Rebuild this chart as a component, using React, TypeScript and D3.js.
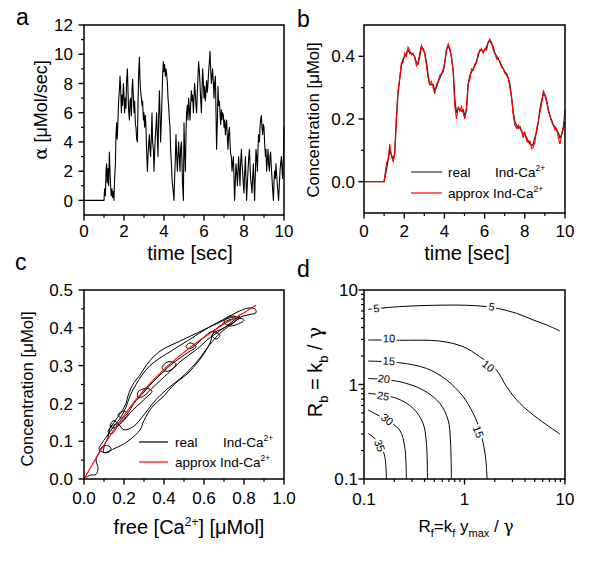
import React from 'react';
import * as d3 from 'd3';

// ---------- Panel a: input flux alpha(t) ----------
const alphaTime = [0, 1.0, 1.03, 1.07, 1.1, 1.13, 1.16, 1.2, 1.23, 1.27, 1.3, 1.33, 1.36, 1.4, 1.43, 1.47, 1.5, 1.53, 1.57, 1.6, 1.63, 1.66, 1.7, 1.73, 1.77, 1.8, 1.83, 1.87, 1.9, 1.93, 1.97, 2.0, 2.03, 2.07, 2.1, 2.13, 2.17, 2.2, 2.23, 2.27, 2.3, 2.33, 2.37, 2.4, 2.43, 2.47, 2.5, 2.53, 2.57, 2.6, 2.63, 2.67, 2.7, 2.73, 2.77, 2.8, 2.83, 2.87, 2.9, 2.93, 2.97, 3.0, 3.03, 3.07, 3.1, 3.13, 3.17, 3.2, 3.23, 3.27, 3.3, 3.33, 3.37, 3.4, 3.43, 3.47, 3.5, 3.53, 3.57, 3.6, 3.63, 3.67, 3.7, 3.73, 3.77, 3.8, 3.83, 3.87, 3.9, 3.93, 3.97, 4.0, 4.03, 4.07, 4.1, 4.13, 4.17, 4.2, 4.23, 4.27, 4.3, 4.33, 4.37, 4.4, 4.43, 4.47, 4.5, 4.53, 4.57, 4.6, 4.63, 4.67, 4.7, 4.73, 4.77, 4.8, 4.83, 4.87, 4.9, 4.93, 4.97, 5.0, 5.03, 5.07, 5.1, 5.13, 5.17, 5.2, 5.23, 5.27, 5.3, 5.33, 5.37, 5.4, 5.43, 5.47, 5.5, 5.53, 5.57, 5.6, 5.63, 5.67, 5.7, 5.73, 5.77, 5.8, 5.83, 5.87, 5.9, 5.93, 5.97, 6.0, 6.03, 6.07, 6.1, 6.13, 6.17, 6.2, 6.23, 6.27, 6.3, 6.33, 6.37, 6.4, 6.43, 6.47, 6.5, 6.53, 6.57, 6.6, 6.63, 6.67, 6.7, 6.73, 6.77, 6.8, 6.83, 6.87, 6.9, 6.93, 6.97, 7.0, 7.03, 7.07, 7.1, 7.13, 7.17, 7.2, 7.23, 7.27, 7.3, 7.33, 7.37, 7.4, 7.43, 7.47, 7.5, 7.53, 7.57, 7.6, 7.63, 7.67, 7.7, 7.73, 7.77, 7.8, 7.83, 7.87, 7.9, 7.93, 7.97, 8.0, 8.03, 8.07, 8.1, 8.13, 8.17, 8.2, 8.23, 8.27, 8.3, 8.33, 8.37, 8.4, 8.43, 8.47, 8.5, 8.53, 8.57, 8.6, 8.63, 8.67, 8.7, 8.73, 8.77, 8.8, 8.83, 8.87, 8.9, 8.93, 8.97, 9.0, 9.03, 9.07, 9.1, 9.13, 9.17, 9.2, 9.23, 9.27, 9.3, 9.33, 9.37, 9.4, 9.43, 9.47, 9.5, 9.53, 9.57, 9.6, 9.63, 9.67, 9.7, 9.73, 9.77, 9.8, 9.83, 9.87, 9.9, 9.93, 9.97, 10.0];
const alphaValue = [0, 0, 0.8, 0.3, 2.0, 2.5, 1.2, 2.2, 1.0, 3.3, 2.0, 1.0, 0.3, 0.8, 0.2, 0.6, 0, 1.5, 2.5, 4.5, 5.3, 4.2, 5.5, 6.8, 7.5, 8.5, 7.8, 6.0, 7.2, 6.5, 8.0, 7.2, 6.0, 7.0, 6.3, 8.2, 9.0, 7.5, 6.2, 5.5, 6.8, 7.0, 5.8, 7.5, 8.3, 7.0, 6.0, 6.8, 5.2, 5.0, 4.2, 4.0, 6.5, 8.5, 9.8, 8.2, 7.5, 7.0, 6.5, 6.8, 5.5, 6.0, 5.0, 5.8, 5.0, 3.5, 2.0, 3.0, 3.8, 4.5, 3.5, 3.0, 4.5, 6.0, 4.0, 3.5, 2.0, 3.2, 4.5, 5.0, 6.0, 4.2, 3.0, 5.5, 7.5, 6.0, 4.0, 5.5, 7.0, 8.5, 9.5, 8.8, 9.3, 8.5, 9.0, 8.7, 8.0, 7.0, 6.5, 5.5, 5.0, 3.5, 2.5, 1.5, 1.0, 0.5, 0, 1.5, 3.0, 4.5, 3.2, 2.0, 3.0, 4.0, 2.8, 2.0, 3.5, 4.0, 2.5, 1.0, 0, 5.3, 3.5, 2.0, 4.5, 6.0, 6.5, 5.5, 7.0, 6.2, 5.5, 6.5, 7.5, 6.8, 7.2, 6.0, 7.0, 8.0, 7.2, 6.5, 6.0, 7.5, 8.5, 9.5, 8.8, 8.0, 7.0, 6.0, 7.5, 9.0, 8.0, 7.0, 7.8, 6.8, 7.5, 8.2, 7.4, 8.0, 8.8, 9.5, 10.2, 9.0, 8.0, 8.5, 9.0, 8.0, 7.0, 8.0, 8.5, 6.0, 3.5, 5.5, 7.8, 6.5, 6.8, 6.0, 5.2, 6.2, 5.5, 6.0, 5.8, 5.0, 5.5, 4.5, 5.2, 5.5, 4.2, 3.5, 4.5, 5.0, 4.0, 3.2, 3.0, 2.0, 2.5, 3.0, 1.5, 0, 1.5, 2.5, 2.0, 1.0, 2.0, 3.0, 2.0, 1.0, 2.5, 3.5, 2.5, 2.0, 1.0, 0.5, 1.8, 3.0, 1.5, 0, 1.2, 2.0, 2.8, 3.5, 2.5, 1.5, 1.0, 0.5, 1.5, 2.5, 1.2, 0, 2.0, 3.5, 3.0, 2.0, 3.5, 4.5, 4.0, 5.0, 5.5, 5.8, 5.0, 4.5, 5.2, 5.0, 4.0, 3.0, 3.5, 2.0, 2.8, 3.5, 2.5, 2.0, 3.0, 3.3, 2.2, 1.5, 0.8, 0, 1.2, 2.0, 1.5, 2.5, 1.8, 1.0, 0.5, 0, 1.2, 2.0, 2.5, 3.0, 2.2, 1.5, 3.0, 5.0];
const alphaXTicks = [0, 2, 4, 6, 8, 10];
const alphaYTicks = [0, 2, 4, 6, 8, 10, 12];

// ---------- Panel b: Ind-Ca2+ concentration ----------
const concTime = [0, 1.0, 1.12, 1.2, 1.28, 1.37, 1.45, 1.53, 1.61, 1.69, 1.78, 1.86, 1.94, 2.03, 2.11, 2.19, 2.27, 2.36, 2.44, 2.52, 2.61, 2.69, 2.77, 2.86, 2.94, 3.02, 3.11, 3.19, 3.27, 3.36, 3.44, 3.52, 3.6, 3.69, 3.77, 3.85, 3.94, 4.02, 4.1, 4.19, 4.27, 4.35, 4.44, 4.52, 4.6, 4.69, 4.77, 4.85, 4.93, 5.02, 5.1, 5.18, 5.27, 5.35, 5.43, 5.51, 5.6, 5.68, 5.76, 5.85, 5.93, 6.01, 6.1, 6.18, 6.26, 6.35, 6.43, 6.51, 6.6, 6.68, 6.76, 6.84, 6.93, 7.01, 7.09, 7.18, 7.26, 7.34, 7.43, 7.51, 7.59, 7.67, 7.76, 7.84, 7.92, 8.0, 8.09, 8.17, 8.26, 8.34, 8.42, 8.5, 8.59, 8.67, 8.75, 8.84, 8.92, 9.0, 9.09, 9.17, 9.25, 9.34, 9.42, 9.5, 9.58, 9.67, 9.75, 9.83, 9.92, 10.0];
const concReal = [0, 0, 0.04, 0.07, 0.1, 0.085, 0.07, 0.09, 0.2, 0.28, 0.33, 0.37, 0.39, 0.4, 0.41, 0.42, 0.41, 0.41, 0.405, 0.4, 0.38, 0.375, 0.4, 0.43, 0.425, 0.41, 0.38, 0.34, 0.31, 0.31, 0.31, 0.29, 0.3, 0.32, 0.33, 0.345, 0.35, 0.38, 0.42, 0.435, 0.42, 0.4, 0.35, 0.26, 0.22, 0.235, 0.23, 0.225, 0.23, 0.21, 0.23, 0.31, 0.34, 0.35, 0.36, 0.37, 0.385, 0.4, 0.42, 0.42, 0.415, 0.42, 0.43, 0.445, 0.45, 0.44, 0.43, 0.41, 0.4, 0.39, 0.385, 0.37, 0.36, 0.35, 0.345, 0.33, 0.31, 0.27, 0.22, 0.19, 0.18, 0.17, 0.175, 0.16, 0.155, 0.15, 0.14, 0.13, 0.12, 0.115, 0.12, 0.14, 0.16, 0.19, 0.23, 0.26, 0.28, 0.275, 0.255, 0.23, 0.21, 0.195, 0.18, 0.175, 0.165, 0.155, 0.14, 0.15, 0.17, 0.19];
const concApprox = [0, 0, 0.06, 0.07, 0.12, 0.08, 0.065, 0.09, 0.2, 0.29, 0.33, 0.38, 0.38, 0.41, 0.4, 0.43, 0.42, 0.405, 0.41, 0.395, 0.37, 0.38, 0.41, 0.435, 0.42, 0.41, 0.37, 0.33, 0.31, 0.32, 0.3, 0.28, 0.31, 0.32, 0.34, 0.34, 0.36, 0.38, 0.42, 0.44, 0.425, 0.395, 0.35, 0.24, 0.2, 0.24, 0.225, 0.24, 0.22, 0.2, 0.24, 0.31, 0.33, 0.36, 0.355, 0.375, 0.38, 0.41, 0.415, 0.425, 0.41, 0.425, 0.42, 0.445, 0.455, 0.445, 0.42, 0.41, 0.39, 0.395, 0.38, 0.365, 0.36, 0.345, 0.34, 0.33, 0.3, 0.27, 0.21, 0.18, 0.17, 0.18, 0.17, 0.165, 0.14, 0.16, 0.13, 0.125, 0.13, 0.105, 0.11, 0.125, 0.17, 0.19, 0.22, 0.25, 0.29, 0.28, 0.26, 0.225, 0.21, 0.19, 0.18, 0.165, 0.17, 0.14, 0.12, 0.15, 0.18, 0.23];
const concXTicks = [0, 2, 4, 6, 8, 10];
const concYTicks = [0, 0.2, 0.4];

// ---------- Panel c: Ind-Ca2+ vs free Ca2+ ----------
const loopFreeCa = [0, 0.03, 0.06, 0.07, 0.06, 0.075, 0.09, 0.12, 0.135, 0.12, 0.09, 0.075, 0.09, 0.11, 0.13, 0.15, 0.18, 0.21, 0.23, 0.26, 0.29, 0.33, 0.38, 0.44, 0.5, 0.56, 0.62, 0.69, 0.76, 0.82, 0.855, 0.86, 0.83, 0.79, 0.75, 0.7, 0.66, 0.62, 0.58, 0.53, 0.48, 0.44, 0.41, 0.39, 0.42, 0.46, 0.44, 0.39, 0.34, 0.3, 0.27, 0.27, 0.31, 0.34, 0.31, 0.27, 0.23, 0.2, 0.17, 0.14, 0.12, 0.14, 0.17, 0.2, 0.25, 0.3, 0.36, 0.42, 0.48, 0.53, 0.58, 0.62, 0.66, 0.7, 0.74, 0.78, 0.8, 0.77, 0.73, 0.7, 0.73, 0.76, 0.72, 0.66, 0.6, 0.52, 0.46, 0.4, 0.35, 0.31, 0.28, 0.25, 0.235, 0.22, 0.21, 0.19, 0.17, 0.15, 0.13, 0.12, 0.1, 0.1, 0.15, 0.22, 0.28, 0.3, 0.34, 0.4, 0.45, 0.52, 0.57, 0.61, 0.63, 0.65, 0.68, 0.72, 0.76, 0.78, 0.75, 0.7, 0.66, 0.64, 0.66, 0.68, 0.64, 0.6, 0.56, 0.53, 0.51, 0.53, 0.56, 0.52, 0.48, 0.44, 0.4, 0.35, 0.3, 0.25, 0.22, 0.19, 0.17, 0.2, 0.22, 0.18, 0.15, 0.13, 0.15, 0.17];
const loopIndCa = [0, 0.01, 0.012, 0.03, 0.05, 0.07, 0.085, 0.088, 0.08, 0.07, 0.072, 0.08, 0.095, 0.11, 0.125, 0.14, 0.16, 0.19, 0.22, 0.25, 0.275, 0.3, 0.32, 0.34, 0.36, 0.38, 0.4, 0.42, 0.44, 0.452, 0.45, 0.44, 0.435, 0.43, 0.415, 0.4, 0.385, 0.37, 0.35, 0.33, 0.31, 0.29, 0.285, 0.295, 0.31, 0.305, 0.29, 0.265, 0.24, 0.22, 0.215, 0.23, 0.24, 0.232, 0.215, 0.195, 0.175, 0.155, 0.14, 0.12, 0.125, 0.14, 0.145, 0.13, 0.14, 0.17, 0.21, 0.24, 0.265, 0.29, 0.32, 0.35, 0.375, 0.395, 0.41, 0.425, 0.42, 0.41, 0.405, 0.415, 0.43, 0.43, 0.425, 0.41, 0.395, 0.375, 0.36, 0.345, 0.325, 0.3, 0.275, 0.255, 0.24, 0.22, 0.2, 0.18, 0.165, 0.15, 0.135, 0.11, 0.085, 0.07, 0.08, 0.1, 0.13, 0.155, 0.19, 0.22, 0.25, 0.28, 0.31, 0.34, 0.36, 0.39, 0.405, 0.42, 0.425, 0.43, 0.42, 0.4, 0.39, 0.38, 0.37, 0.38, 0.39, 0.375, 0.355, 0.345, 0.35, 0.36, 0.35, 0.335, 0.32, 0.305, 0.285, 0.26, 0.23, 0.2, 0.175, 0.16, 0.17, 0.18, 0.17, 0.15, 0.135, 0.14, 0.155, 0.145];
const approxFreeCa = [0, 0.1, 0.2, 0.3, 0.4, 0.5, 0.6, 0.7, 0.8, 0.86];
const approxIndCa = [0, 0.09, 0.168, 0.235, 0.29, 0.335, 0.375, 0.41, 0.44, 0.46];
const caXTicks = [0, 0.2, 0.4, 0.6, 0.8, 1.0];
const caYTicks = [0, 0.1, 0.2, 0.3, 0.4, 0.5];

// ---------- Panel d: contour map ----------
const contourLevels = [5, 10, 15, 20, 25, 30, 35];
const contourRf = [
  [0.11, 0.226, 0.488, 1.05, 1.66, 2.25, 3.3, 4.83, 6.56, 8.9],
  [0.11, 0.226, 0.568, 0.97, 1.42, 2.08, 2.62, 3.56, 5.64, 8.9],
  [0.11, 0.226, 0.418, 0.662, 0.97, 1.22, 1.42, 1.6, 1.68],
  [0.11, 0.226, 0.387, 0.568, 0.687, 0.724, 0.741],
  [0.11, 0.21, 0.308, 0.387, 0.418, 0.428],
  [0.11, 0.167, 0.226, 0.254, 0.264],
  [0.11, 0.143, 0.161, 0.167],
];
const contourRb = [
  [6.24, 6.67, 6.89, 6.89, 6.67, 6.31, 5.66, 4.82, 4.27, 3.68],
  [2.96, 2.94, 2.88, 2.51, 1.97, 1.42, 0.95, 0.63, 0.42, 0.3],
  [1.77, 1.7, 1.48, 1.12, 0.743, 0.495, 0.33, 0.187, 0.1],
  [1.16, 1.07, 0.875, 0.632, 0.42, 0.259, 0.1],
  [0.807, 0.715, 0.56, 0.388, 0.238, 0.1],
  [0.537, 0.42, 0.33, 0.22, 0.1],
  [0.304, 0.238, 0.172, 0.1],
];
const contourLabelLevel = [5, 5, 10, 10, 15, 15, 20, 25, 30, 35];
const contourLabelRf = [0.133, 1.86, 0.177, 1.72, 0.177, 1.37, 0.158, 0.155, 0.17, 0.143];
const contourLabelRb = [6.4, 6.66, 3.08, 1.57, 1.77, 0.316, 1.15, 0.755, 0.428, 0.225];
const logTicks = [0.1, 1, 10];

const FONT = "'Liberation Sans', Arial, Helvetica, sans-serif";

function minorLog(lo: number, hi: number) {
  const out: number[] = [];
  for (let d = lo; d < hi; d *= 10) for (let k = 2; k <= 9; k++) out.push(d * k);
  return out;
}

function XAxis({ scale, y, major, minor, fmt, labelY }: any) {
  return (
    <g>
      {minor.map((v: number, i: number) => (
        <line key={'m' + i} x1={scale(v)} x2={scale(v)} y1={y} y2={y + 3} stroke="#000" strokeWidth={1.2} />
      ))}
      {major.map((v: number, i: number) => (
        <g key={'M' + i}>
          <line x1={scale(v)} x2={scale(v)} y1={y} y2={y + 5.5} stroke="#000" strokeWidth={1.4} />
          <text x={scale(v)} y={labelY} textAnchor="middle" fontSize={17} fontFamily={FONT}>{fmt(v)}</text>
        </g>
      ))}
    </g>
  );
}

function YAxis({ scale, x, major, minor, fmt, labelX }: any) {
  return (
    <g>
      {minor.map((v: number, i: number) => (
        <line key={'m' + i} x1={x - 3} x2={x} y1={scale(v)} y2={scale(v)} stroke="#000" strokeWidth={1.2} />
      ))}
      {major.map((v: number, i: number) => (
        <g key={'M' + i}>
          <line x1={x - 5.5} x2={x} y1={scale(v)} y2={scale(v)} stroke="#000" strokeWidth={1.4} />
          <text x={labelX} y={scale(v)} dy="0.36em" textAnchor="end" fontSize={17} fontFamily={FONT}>{fmt(v)}</text>
        </g>
      ))}
    </g>
  );
}

function Frame({ x0, x1, y0, y1 }: any) {
  return <rect x={x0} y={y0} width={x1 - x0} height={y1 - y0} fill="none" stroke="#000" strokeWidth={1.5} />;
}

export default function App() {
  // Panel a
  const xA = d3.scaleLinear().domain([0, 10]).range([84, 284]);
  const yA = d3.scaleLinear().domain([-1, 12]).range([215, 25]);
  const lineA = d3.line<number>().x((_, i) => xA(alphaTime[i])).y((v) => yA(v));

  // Panel b
  const xB = d3.scaleLinear().domain([0, 10]).range([364, 565]);
  const yB = d3.scaleLinear().domain([-0.1, 0.5]).range([213, 25]);
  const lineB = d3.line<number>().x((_, i) => xB(concTime[i])).y((v) => yB(v));

  // Panel c
  const xC = d3.scaleLinear().domain([0, 1]).range([84, 284]);
  const yC = d3.scaleLinear().domain([0, 0.5]).range([479, 290]);
  const loopLine = d3.line<number>().x((_, i) => xC(loopFreeCa[i])).y((v) => yC(v)).curve(d3.curveCatmullRom.alpha(0.5));
  const approxLine = d3.line<number>().x((_, i) => xC(approxFreeCa[i])).y((v) => yC(v)).curve(d3.curveMonotoneX);

  // Panel d
  const xD = d3.scaleLog().domain([0.1, 10]).range([364, 565]);
  const yD = d3.scaleLog().domain([0.1, 10]).range([479, 290]);

  const contourPaths = contourLevels.map((lvl, k) => {
    const pts: [number, number][] = contourRf[k].map((rf, i) => [xD(rf), yD(contourRb[k][i])]);
    return { lvl, pts, d: d3.line().curve(d3.curveCatmullRom.alpha(0.5))(pts) as string };
  });

  const contourLabels = contourLabelLevel.map((lvl, i) => {
    const px = xD(contourLabelRf[i]);
    const py = yD(contourLabelRb[i]);
    const c = contourPaths[contourLevels.indexOf(lvl)];
    let best = 0;
    let bestD = Infinity;
    for (let j = 0; j < c.pts.length - 1; j++) {
      const mx = (c.pts[j][0] + c.pts[j + 1][0]) / 2;
      const my = (c.pts[j][1] + c.pts[j + 1][1]) / 2;
      const dd = (mx - px) ** 2 + (my - py) ** 2;
      if (dd < bestD) { bestD = dd; best = j; }
    }
    let ang = (Math.atan2(c.pts[best + 1][1] - c.pts[best][1], c.pts[best + 1][0] - c.pts[best][0]) * 180) / Math.PI;
    if (ang > 90) ang -= 180;
    if (ang < -90) ang += 180;
    return { lvl, px, py, ang };
  });

  const f1 = d3.format('.1f');
  const fInt = d3.format('d');
  const fLog = (v: number) => (v < 1 ? '0.1' : String(v));

  return (
    <svg width={600} height={561} style={{ position: 'absolute', left: 0, top: 0 }} fontFamily={FONT}>
      <rect width={600} height={561} fill="#fff" />

      {/* ---------- Panel a ---------- */}
      <text x={16} y={25} fontSize={23}>a</text>
      <path d={lineA(alphaValue) as string} fill="none" stroke="#000" strokeWidth={1.1} strokeLinejoin="round" />
      <Frame x0={84} x1={284} y0={25} y1={215} />
      <XAxis scale={xA} y={215} major={alphaXTicks} minor={[1, 3, 5, 7, 9]} fmt={fInt} labelY={237} />
      <YAxis scale={yA} x={84} major={alphaYTicks} minor={[1, 3, 5, 7, 9, 11]} fmt={fInt} labelX={73} />
      <text x={190} y={260} textAnchor="middle" fontSize={20}>time [sec]</text>
      <text transform="translate(47,110) rotate(-90)" textAnchor="middle" fontSize={18}>
        <tspan fontFamily="'DejaVu Serif', serif">α</tspan> [μMol/sec]
      </text>

      {/* ---------- Panel b ---------- */}
      <text x={297} y={27} fontSize={23}>b</text>
      <path d={lineB(concReal) as string} fill="none" stroke="#222" strokeWidth={1.3} />
      <path d={lineB(concApprox) as string} fill="none" stroke="#ff0000" strokeWidth={1.1} />
      <Frame x0={364} x1={565} y0={25} y1={213} />
      <XAxis scale={xB} y={213} major={concXTicks} minor={[1, 3, 5, 7, 9]} fmt={fInt} labelY={237} />
      <YAxis scale={yB} x={364} major={concYTicks} minor={[0.1, 0.3]} fmt={f1} labelX={355} />
      <text x={467} y={260} textAnchor="middle" fontSize={20}>time [sec]</text>
      <text transform="translate(319,120) rotate(-90)" textAnchor="middle" fontSize={16.8}>Concentration [μMol]</text>
      <g fontSize={13.5}>
        <line x1={411} x2={442} y1={172} y2={172} stroke="#444" strokeWidth={1.3} />
        <text x={448} y={177}>real</text>
        <text x={495} y={177}>Ind-Ca<tspan dy={-6} fontSize={8.5}>2+</tspan></text>
        <line x1={411} x2={442} y1={193} y2={193} stroke="#ff0000" strokeWidth={1.2} />
        <text x={448} y={198}>approx Ind-Ca<tspan dy={-6} fontSize={8.5}>2+</tspan></text>
      </g>

      {/* ---------- Panel c ---------- */}
      <text x={15} y={270} fontSize={23}>c</text>
      <path d={loopLine(loopIndCa) as string} fill="none" stroke="#000" strokeWidth={1} />
      <path d={approxLine(approxIndCa) as string} fill="none" stroke="#ff0000" strokeWidth={1.2} />
      <Frame x0={84} x1={284} y0={290} y1={479} />
      <XAxis scale={xC} y={479} major={caXTicks} minor={[0.1, 0.3, 0.5, 0.7, 0.9]} fmt={f1} labelY={504} />
      <YAxis scale={yC} x={84} major={caYTicks} minor={[0.05, 0.15, 0.25, 0.35, 0.45]} fmt={f1} labelX={73} />
      <text x={189} y={534} textAnchor="middle" fontSize={20}>
        free [Ca<tspan dy={-8} fontSize={12}>2+</tspan><tspan dy={8}>] [μMol]</tspan>
      </text>
      <text transform="translate(33,389) rotate(-90)" textAnchor="middle" fontSize={16.8}>Concentration [μMol]</text>
      <g fontSize={13.5}>
        <line x1={139} x2={168} y1={442} y2={442} stroke="#000" strokeWidth={1.2} />
        <text x={175} y={447}>real</text>
        <text x={223} y={447}>Ind-Ca<tspan dy={-6} fontSize={8.5}>2+</tspan></text>
        <line x1={139} x2={168} y1={462} y2={462} stroke="#ff0000" strokeWidth={1.2} />
        <text x={175} y={467}>approx Ind-Ca<tspan dy={-6} fontSize={8.5}>2+</tspan></text>
      </g>

      {/* ---------- Panel d ---------- */}
      <text x={297} y={277} fontSize={23}>d</text>
      {contourPaths.map((c, i) => (
        <path key={i} d={c.d} fill="none" stroke="#000" strokeWidth={1} />
      ))}
      {contourLabels.map((l, i) => (
        <text key={i} transform={`translate(${l.px},${l.py}) rotate(${l.ang})`} textAnchor="middle" dy="0.35em"
          fontSize={11} stroke="#fff" strokeWidth={4} paintOrder="stroke" fill="#000">{l.lvl}</text>
      ))}
      <Frame x0={364} x1={565} y0={290} y1={479} />
      <XAxis scale={xD} y={479} major={logTicks} minor={minorLog(0.1, 10)} fmt={fLog} labelY={505} />
      <YAxis scale={yD} x={364} major={logTicks} minor={minorLog(0.1, 10)} fmt={fLog} labelX={358} />
      <text x={466} y={532} textAnchor="middle" fontSize={17}>
        R<tspan dy={5} fontSize={11}>f</tspan><tspan dy={-5}>=k</tspan><tspan dy={5} fontSize={11}>f</tspan>
        <tspan dy={-5}> y</tspan><tspan dy={5} fontSize={11}>max</tspan><tspan dy={-5}> / </tspan>
        <tspan fontFamily="'DejaVu Serif', serif">γ</tspan>
      </text>
      <text transform="translate(322,372) rotate(-90)" textAnchor="middle" fontSize={20}>
        R<tspan dy={6} fontSize={13}>b</tspan><tspan dy={-6}> = k</tspan><tspan dy={6} fontSize={13}>b</tspan>
        <tspan dy={-6}> / </tspan><tspan fontFamily="'DejaVu Serif', serif">γ</tspan>
      </text>
    </svg>
  );
}
